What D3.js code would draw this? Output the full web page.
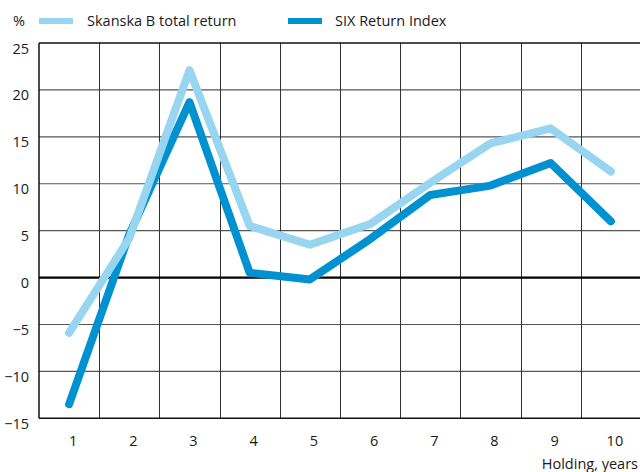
<!DOCTYPE html>
<html><head><meta charset="utf-8">
<script src="https://cdn.jsdelivr.net/npm/d3@7"></script>
<style>body{margin:0;background:#fff}svg{display:block}text{font-family:"Open Sans",sans-serif;fill:#1a1a1a}</style>
</head><body><svg id="c" width="640" height="472"></svg>
<script>
const years = [1,2,3,4,5,6,7,8,9,10];
const skanska = [-5.9, 4.2, 22.1, 5.5, 3.5, 5.7, 10.1, 14.3, 15.9, 11.3];
const six = [-13.5, 4.6, 18.7, 0.5, -0.2, 4.1, 8.8, 9.8, 12.2, 6.0];
const yTicks = [-15,-10,-5,0,5,10,15,20,25];
const seriesNames = ["Skanska B total return","SIX Return Index"];
const colors = ["#97d5f0","#0091d0"];

const svg = d3.select("#c");
const L=39, R=641, T=43, B=418.3;
const x = d3.scaleBand().domain(years).range([L,R]).padding(0);
const y = d3.scaleLinear().domain([-15,25]).range([B,T]);

// horizontal gridlines
svg.append("g").selectAll("line").data(yTicks.filter(d=>d!==0 && d!==-15 && d!==25)).join("line")
  .attr("x1",L).attr("x2",R).attr("y1",d=>y(d)).attr("y2",d=>y(d))
  .attr("stroke","#555").attr("stroke-width",1.2);
// vertical gridlines
svg.append("g").selectAll("line").data(years.slice(1)).join("line")
  .attr("x1",d=>Math.round(x(d))+0.5).attr("x2",d=>Math.round(x(d))+0.5).attr("y1",T).attr("y2",B)
  .attr("stroke","#333").attr("stroke-width",1);
// borders
svg.append("line").attr("x1",L).attr("x2",R).attr("y1",T).attr("y2",T).attr("stroke","#111").attr("stroke-width",1.5);
svg.append("line").attr("x1",L).attr("x2",R).attr("y1",B).attr("y2",B).attr("stroke","#111").attr("stroke-width",1.5);
svg.append("line").attr("x1",L).attr("x2",L).attr("y1",T).attr("y2",B).attr("stroke","#111").attr("stroke-width",1.5);
svg.append("line").attr("x1",L).attr("x2",R).attr("y1",y(0)).attr("y2",y(0)).attr("stroke","#000").attr("stroke-width",2.2);

// y labels
svg.append("g").selectAll("text").data(yTicks).join("text")
  .attr("x",29).attr("y",d=>y(d)+5.5).attr("dy","0.35em").attr("text-anchor","end")
  .attr("font-size",14.5).text(d=>d<0?"\u2212"+Math.abs(d):d);
// x labels
svg.append("g").selectAll("text").data(years).join("text")
  .attr("x",d=>x(d)+x.bandwidth()/2+4).attr("y",441).attr("dy","0.35em").attr("text-anchor","middle")
  .attr("font-size",14.5).text(d=>d);
svg.append("text").attr("x",638).attr("y",464).attr("dy","0.35em").attr("text-anchor","end")
  .attr("font-size",14.5).text("Holding, years");
svg.append("text").attr("x",13).attr("y",21).attr("dy","0.35em").attr("font-size",14.5).text("%");

// lines
const line = d3.line().x((d,i)=>x(years[i])+x.bandwidth()/2).y(d=>y(d));
[six, skanska].forEach((s,k)=>{
  svg.append("path").datum(s).attr("d",line).attr("fill","none")
    .attr("stroke", k===0?colors[1]:colors[0]).attr("stroke-width",8)
    .attr("stroke-linecap","round").attr("stroke-linejoin","round");
});

// legend
const lg = [{x:39,tx:87},{x:288,tx:335}];
seriesNames.forEach((n,i)=>{
  svg.append("line").attr("x1",lg[i].x).attr("x2",lg[i].x+34).attr("y1",21).attr("y2",21)
    .attr("stroke",colors[i]).attr("stroke-width",6);
  svg.append("text").attr("x",lg[i].tx).attr("y",21).attr("dy","0.35em").attr("font-size",14.5).text(n);
});
</script></body></html>
